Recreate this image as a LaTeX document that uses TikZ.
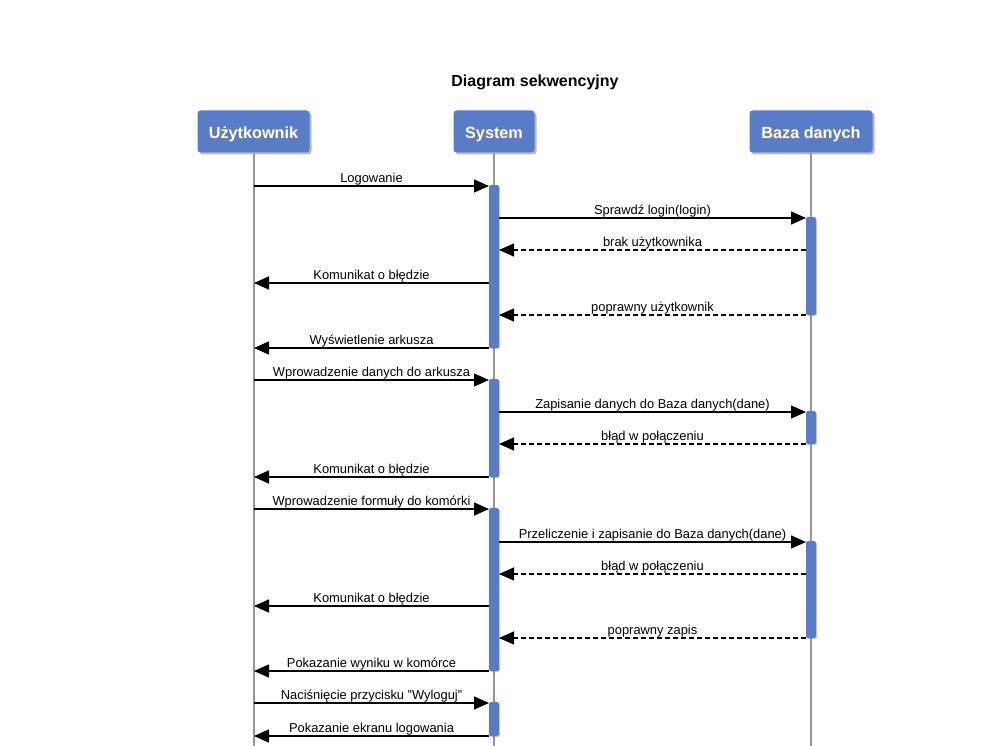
\documentclass[tikz,border=0pt]{standalone}
\usepackage{fontspec}
\setmainfont{Liberation Sans}
\usetikzlibrary{arrows.meta,shadows}
\definecolor{boxblue}{RGB}{88,124,200}
\definecolor{lifegray}{RGB}{150,150,150}
\newcommand\shadowtext[1]{\rlap{\hspace{0.7pt}\raisebox{-0.7pt}{\color{black!50}#1}}#1}
\begin{document}
\begin{tikzpicture}[x=1pt,y=-1pt,
  head/.style={draw=none,fill=boxblue,rounded corners=3pt,minimum height=42pt,
    text=white,font=\bfseries\fontsize{16.2}{18}\selectfont,inner sep=0pt,
    text height=14pt,text depth=0pt,
    drop shadow={shadow xshift=2pt,shadow yshift=-2pt,fill=black!60,opacity=0.45}},
  life/.style={draw=lifegray,line width=1.5pt},
  actbar/.style={draw=none,fill=boxblue,rounded corners=1.5pt,minimum width=10pt,inner sep=0pt,anchor=north,
    drop shadow={shadow xshift=1pt,shadow yshift=-1pt,fill=black!60,opacity=0.3}},
  call/.style={line width=1.5pt,-{Triangle[length=15pt,width=13pt]}},
  ret/.style={call,dash pattern=on 5pt off 3pt},
  lbl/.style={midway,above,font=\fontsize{12.9}{14}\selectfont,inner sep=0pt,yshift=0.5pt}]
\useasboundingbox (0,0) rectangle (1007,746);
\node[font=\bfseries\fontsize{16}{18}\selectfont] (title) at (535,82) {Diagram sekwencyjny};
% headers
\node[head,minimum width=112pt] (u) at (253.5,131.5) {\shadowtext{Użytkownik}};
\node[head,minimum width=81pt] (s) at (494,131.5) {\shadowtext{System}};
\node[head,minimum width=123pt] (d) at (811,131.5) {\shadowtext{Baza danych}};
% lifeline ends
\coordinate (ue) at (254,746);
\coordinate (se) at (494,746);
\coordinate (de) at (811,746);
\draw[life] (u.south -| ue) -- (ue);
\draw[life] (s.south) -- (se);
\draw[life] (d.south) -- (de);
% activation bars
\node[actbar,minimum height=163pt] (s1) at (494,185) {};
\node[actbar,minimum height=98pt] (s2) at (494,379) {};
\node[actbar,minimum height=163pt] (s3) at (494,508) {};
\node[actbar,minimum height=34pt] (s4) at (494,702) {};
\node[actbar,minimum height=98pt] (d1) at (811,217) {};
\node[actbar,minimum height=33pt] (d2) at (811,411) {};
\node[actbar,minimum height=97pt] (d3) at (811,541) {};
% message end points
\foreach \n/\y in {1/186,4/283,6/348,7/380,10/477,11/509,14/606,16/671,17/703,18/736}{
  \coordinate (ul\n) at (254,\y);
  \coordinate (sl\n) at (489,\y);
}
\foreach \n/\y in {2/218,3/250,5/315,8/412,9/444,12/542,13/574,15/638}{
  \coordinate (sr\n) at (499,\y);
  \coordinate (dl\n) at (806,\y);
}
% messages
\draw[call] (ul1) -- (sl1) node[lbl] {Logowanie};
\draw[call] (sr2) -- (dl2) node[lbl] {Sprawdź login(login)};
\draw[ret] (dl3) -- (sr3) node[lbl] {brak użytkownika};
\draw[call] (sl4) -- (ul4) node[lbl] {Komunikat o błędzie};
\draw[ret] (dl5) -- (sr5) node[lbl] {poprawny użytkownik};
\draw[call] (sl6) -- (ul6) node[lbl] {Wyświetlenie arkusza};
\draw[call] (ul7) -- (sl7) node[lbl] {Wprowadzenie danych do arkusza};
\draw[call] (sr8) -- (dl8) node[lbl] {Zapisanie danych do Baza danych(dane)};
\draw[ret] (dl9) -- (sr9) node[lbl] {błąd w połączeniu};
\draw[call] (sl10) -- (ul10) node[lbl] {Komunikat o błędzie};
\draw[call] (ul11) -- (sl11) node[lbl] {Wprowadzenie formuły do komórki};
\draw[call] (sr12) -- (dl12) node[lbl] {Przeliczenie i zapisanie do Baza danych(dane)};
\draw[ret] (dl13) -- (sr13) node[lbl] {błąd w połączeniu};
\draw[call] (sl14) -- (ul14) node[lbl] {Komunikat o błędzie};
\draw[ret] (dl15) -- (sr15) node[lbl] {poprawny zapis};
\draw[call] (sl16) -- (ul16) node[lbl] {Pokazanie wyniku w komórce};
\draw[call] (ul17) -- (sl17) node[lbl] {Naciśnięcie przycisku "Wyloguj"};
\draw[call] (sl18) -- (ul18) node[lbl] {Pokazanie ekranu logowania};
\end{tikzpicture}
\end{document}
